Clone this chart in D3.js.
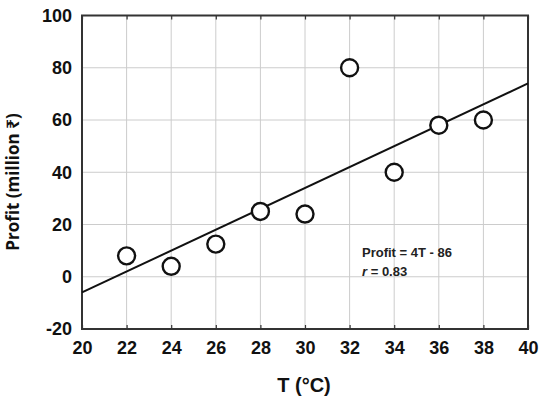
<!DOCTYPE html>
<html><head><meta charset="utf-8">
<script src="https://cdn.jsdelivr.net/npm/d3@7"></script>
<style>body{margin:0;background:#fff;} svg{display:block;}</style>
</head><body><svg id="c" width="541" height="399"></svg>
<script>
const temps = [22, 24, 26, 28, 30, 32, 34, 36, 38];
const profits = [8, 4, 12.5, 25, 24, 80, 40, 58, 60];
const xTicks = [20, 22, 24, 26, 28, 30, 32, 34, 36, 38, 40];
const yTicks = [-20, 0, 20, 40, 60, 80, 100];
const fitSlope = 4, fitIntercept = -86;
const fitText = "Profit = 4T - 86";
const rText = "0.83";

const svg = d3.select("#c");
const L = 82, R = 528, T = 15.5, B = 329;
const x = d3.scaleLinear().domain([20, 40]).range([L, R]);
const y = d3.scaleLinear().domain([-20, 100]).range([B, T]);
const font = "'Liberation Sans', Arial, sans-serif";
const fmt = d => String(d);

// grid
svg.append("g").selectAll("line").data(xTicks.slice(1, -1)).join("line")
  .attr("x1", d => x(d)).attr("x2", d => x(d)).attr("y1", T).attr("y2", B)
  .attr("stroke", "#cccccc").attr("stroke-width", 1);
svg.append("g").selectAll("line").data(yTicks.slice(1, -1)).join("line")
  .attr("y1", d => y(d)).attr("y2", d => y(d)).attr("x1", L).attr("x2", R)
  .attr("stroke", "#cccccc").attr("stroke-width", 1);

// axes (inner ticks)
const xb = svg.append("g").attr("transform", `translate(0,${B})`)
  .call(d3.axisBottom(x).tickValues(xTicks).tickFormat(fmt).tickSizeInner(-4).tickSizeOuter(0).tickPadding(12));
const xt = svg.append("g").attr("transform", `translate(0,${T})`)
  .call(d3.axisTop(x).tickValues(xTicks).tickSizeInner(-4).tickSizeOuter(0).tickFormat(""));
const yl = svg.append("g").attr("transform", `translate(${L},0)`)
  .call(d3.axisLeft(y).tickValues(yTicks).tickFormat(fmt).tickSize(0).tickPadding(10));
[xb, xt, yl].forEach(g => {
  g.select(".domain").remove();
  g.selectAll(".tick line").attr("stroke", "#333").attr("stroke-width", 1.2);
  g.selectAll("text").attr("font-family", font).attr("font-size", 18)
    .attr("font-weight", "bold").attr("fill", "#111");
});

// frame
svg.append("rect").attr("x", L).attr("y", T).attr("width", R - L).attr("height", B - T)
  .attr("fill", "none").attr("stroke", "#333").attr("stroke-width", 2);

// fit line
svg.append("line")
  .attr("x1", x(20)).attr("y1", y(fitSlope * 20 + fitIntercept))
  .attr("x2", x(40)).attr("y2", y(fitSlope * 40 + fitIntercept))
  .attr("stroke", "#111").attr("stroke-width", 2);

// points
svg.append("g").selectAll("circle").data(temps).join("circle")
  .attr("cx", d => x(d)).attr("cy", (d, i) => y(profits[i])).attr("r", 8.5)
  .attr("fill", "white").attr("stroke", "#111").attr("stroke-width", 2.4);

// annotation
svg.append("text").attr("x", 362).attr("y", 257).attr("font-family", font)
  .attr("font-size", 13).attr("font-weight", "bold").attr("fill", "#222").text(fitText);
const rt = svg.append("text").attr("x", 362).attr("y", 276).attr("font-family", font)
  .attr("font-size", 13).attr("font-weight", "bold").attr("fill", "#222");
rt.append("tspan").attr("font-style", "italic").text("r");
rt.append("tspan").text(" = " + rText);

// axis titles
svg.append("text").attr("x", 304).attr("y", 392).attr("text-anchor", "middle")
  .attr("font-family", font).attr("font-size", 20).attr("font-weight", "bold")
  .attr("fill", "#111").text("T (°C)");
svg.append("text").attr("transform", "translate(19,182) rotate(-90)").attr("text-anchor", "middle")
  .attr("font-family", "'Open Sans', 'Noto Sans', sans-serif").attr("font-size", 17).attr("font-weight", "bold")
  .attr("fill", "#111").text("Profit (million ₹)");
</script></body></html>
